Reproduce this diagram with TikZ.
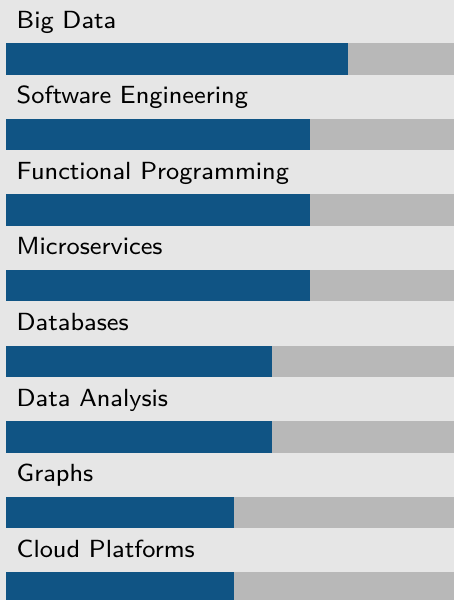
\documentclass[tikz,border=0pt]{standalone}
\usepackage{fontspec}
\newfontfamily\lblfont{lmsans8-regular.otf}
\definecolor{bgc}{RGB}{230,230,230}
\definecolor{barbg}{RGB}{184,184,184}
\definecolor{barfg}{RGB}{16,84,132}
\begin{document}
\begin{tikzpicture}[x=1pt,y=1pt,
  lbl/.style={anchor=base west,inner sep=0pt,font=\lblfont\fontsize{24.8}{28}\selectfont,text=black},
  track/.style={fill=barbg,draw=none},
  level/.style={fill=barfg,draw=none}]
\useasboundingbox (0,0) rectangle (454,600);
\clip (0,0) rectangle (454,600);
\fill[bgc] (0,0) rectangle (454,600);
\foreach \name/\v [count=\i from 0] in {Big Data/9,Software Engineering/8,Functional Programming/8,Microservices/8,Databases/7,Data Analysis/7,Graphs/6,Cloud Platforms/6}{
  \pgfmathsetmacro{\ytop}{600-43.3-75.6*\i}
  \pgfmathsetmacro{\ybot}{\ytop-31.4}
  \pgfmathsetmacro{\ybase}{600-28.2-75.6*\i}
  \pgfmathsetmacro{\xend}{6+38*\v}
  \node[lbl] (label\i) at (16.5,\ybase) {\name};
  \fill[track] (6,\ybot) rectangle (460,\ytop);
  \fill[level] (6,\ybot) rectangle (\xend,\ytop);
}
\end{tikzpicture}
\end{document}
